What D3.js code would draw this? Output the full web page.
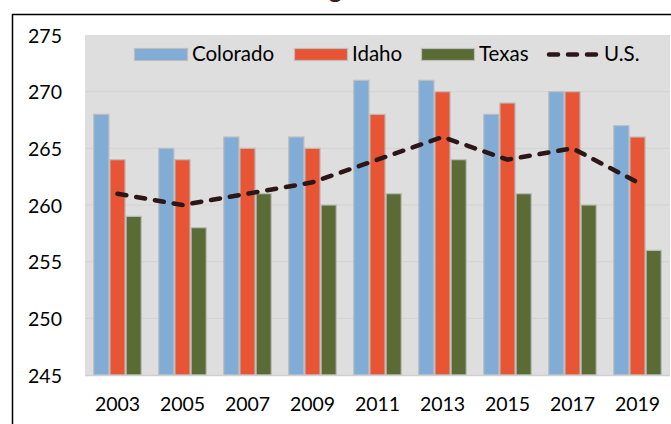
<!DOCTYPE html>
<html>
<head>
<meta charset="utf-8">
<script src="https://cdn.jsdelivr.net/npm/d3@7"></script>
<style>
  html, body { margin: 0; padding: 0; background: #ffffff; }
  svg { display: block; font-family: Lato, "Open Sans", sans-serif; }
</style>
</head>
<body>
<svg id="chart" width="671" height="424"></svg>
<script>
// NAEP average scale scores, grade 8 reading
const years = ["2003", "2005", "2007", "2009", "2011", "2013", "2015", "2017", "2019"];
const colorado = [268, 265, 266, 266, 271, 271, 268, 270, 267];
const idaho    = [264, 264, 265, 265, 268, 270, 269, 270, 266];
const texas    = [259, 258, 261, 260, 261, 264, 261, 260, 256];
const us       = [261, 260, 261, 262, 264, 266, 264, 265, 262];
const yTicks   = [245, 250, 255, 260, 265, 270, 275];

const seriesNames = ["Colorado", "Idaho", "Texas"];
const seriesValues = [colorado, idaho, texas];
const colors = { Colorado: "#80acd6", Idaho: "#e85535", Texas: "#5a6b35", "U.S.": "#2b1618" };

const svg = d3.select("#chart");
const plot = { left: 85, right: 670, top: 35, bottom: 375 };

// Chart frame and title
svg.append("rect")
  .attr("x", 12.5).attr("y", 14.5)
  .attr("width", 720).attr("height", 480)
  .attr("fill", "#ffffff").attr("stroke", "#000000").attr("stroke-width", 1.5);

svg.append("text")
  .attr("x", 342).attr("y", -2)
  .attr("text-anchor", "end")
  .attr("font-weight", "bold")
  .attr("font-size", 25)
  .attr("fill", "#3b1e1e")
  .text("Grade 8 reading");

// Scales
const x = d3.scaleBand().domain(years).range([plot.left, plot.right]).padding(0);
const groupWidth = 48.5;
const x1 = d3.scaleBand().domain(seriesNames)
  .range([(x.bandwidth() - groupWidth) / 2, (x.bandwidth() + groupWidth) / 2]).padding(0);
const y = d3.scaleLinear().domain([245, 275]).range([plot.bottom, plot.top]);

// Plot background
svg.append("rect")
  .attr("x", plot.left).attr("y", plot.top)
  .attr("width", plot.right - plot.left).attr("height", plot.bottom - plot.top)
  .attr("fill", "#dedede");

// Gridlines
svg.append("g")
  .selectAll("line")
  .data(yTicks.slice(1, -1))
  .join("line")
  .attr("x1", plot.left).attr("x2", plot.right)
  .attr("y1", d => y(d)).attr("y2", d => y(d))
  .attr("stroke", "#d2d2d2").attr("stroke-width", 1);

// Bars
const groups = svg.append("g")
  .selectAll("g")
  .data(years)
  .join("g")
  .attr("transform", d => `translate(${x(d)},0)`);

groups.selectAll("rect")
  .data((yr, i) => seriesNames.map((s, k) => ({ s, v: seriesValues[k][i] })))
  .join("rect")
  .attr("x", d => x1(d.s) + 0.5)
  .attr("width", x1.bandwidth() - 1)
  .attr("y", d => y(d.v))
  .attr("height", d => y(245) - y(d.v))
  .attr("fill", d => colors[d.s])
  .attr("stroke", "#bdbdbd")
  .attr("stroke-width", 1.2);

// Axis baseline
svg.append("line")
  .attr("x1", plot.left).attr("x2", plot.right)
  .attr("y1", plot.bottom + 0.5).attr("y2", plot.bottom + 0.5)
  .attr("stroke", "#cfcfcf").attr("stroke-width", 1.5);

// U.S. average line
const line = d3.line()
  .x((d, i) => x(years[i]) + x.bandwidth() / 2)
  .y(d => y(d));
svg.append("path")
  .datum(us)
  .attr("d", line)
  .attr("fill", "none")
  .attr("stroke", colors["U.S."])
  .attr("stroke-width", 4.5)
  .attr("stroke-linecap", "round")
  .attr("stroke-dasharray", "9,10");

// Y axis labels
const yAxis = d3.axisLeft(y).tickValues(yTicks).tickSize(0).tickPadding(0).tickFormat(d3.format("d"));
svg.append("g")
  .attr("transform", "translate(62,0)")
  .call(yAxis)
  .call(g => g.select(".domain").remove())
  .selectAll("text")
  .attr("font-family", "Lato, sans-serif")
  .attr("font-size", 19.5)
  .attr("fill", "#000000")
  .attr("dy", "0.36em");

// X axis labels
const xAxis = d3.axisBottom(x).tickSize(0).tickPadding(0);
svg.append("g")
  .attr("transform", `translate(0,${plot.bottom + 22})`)
  .call(xAxis)
  .call(g => g.select(".domain").remove())
  .selectAll("text")
  .attr("font-family", "Lato, sans-serif")
  .attr("font-size", 19.5)
  .attr("fill", "#000000");

// Legend
const legendItems = [
  { name: "Colorado", x: 134 },
  { name: "Idaho", x: 294 },
  { name: "Texas", x: 421 },
  { name: "U.S.", x: 546 }
];
const legend = svg.append("g");
legendItems.forEach(item => {
  const g = legend.append("g").attr("transform", `translate(${item.x},0)`);
  if (item.name === "U.S.") {
    g.append("line")
      .attr("x1", 3).attr("x2", 52).attr("y1", 54.5).attr("y2", 54.5)
      .attr("stroke", colors["U.S."]).attr("stroke-width", 4.5)
      .attr("stroke-linecap", "round").attr("stroke-dasharray", "9,10");
  } else {
    g.append("rect")
      .attr("x", 0.5).attr("y", 48.5).attr("width", 53).attr("height", 12)
      .attr("fill", colors[item.name]).attr("stroke", "#bdbdbd").attr("stroke-width", 1.2);
  }
  g.append("text")
    .attr("x", 58).attr("y", 61)
    .attr("font-size", 20.5)
    .attr("fill", "#000000")
    .text(item.name);
});
</script>
</body>
</html>
